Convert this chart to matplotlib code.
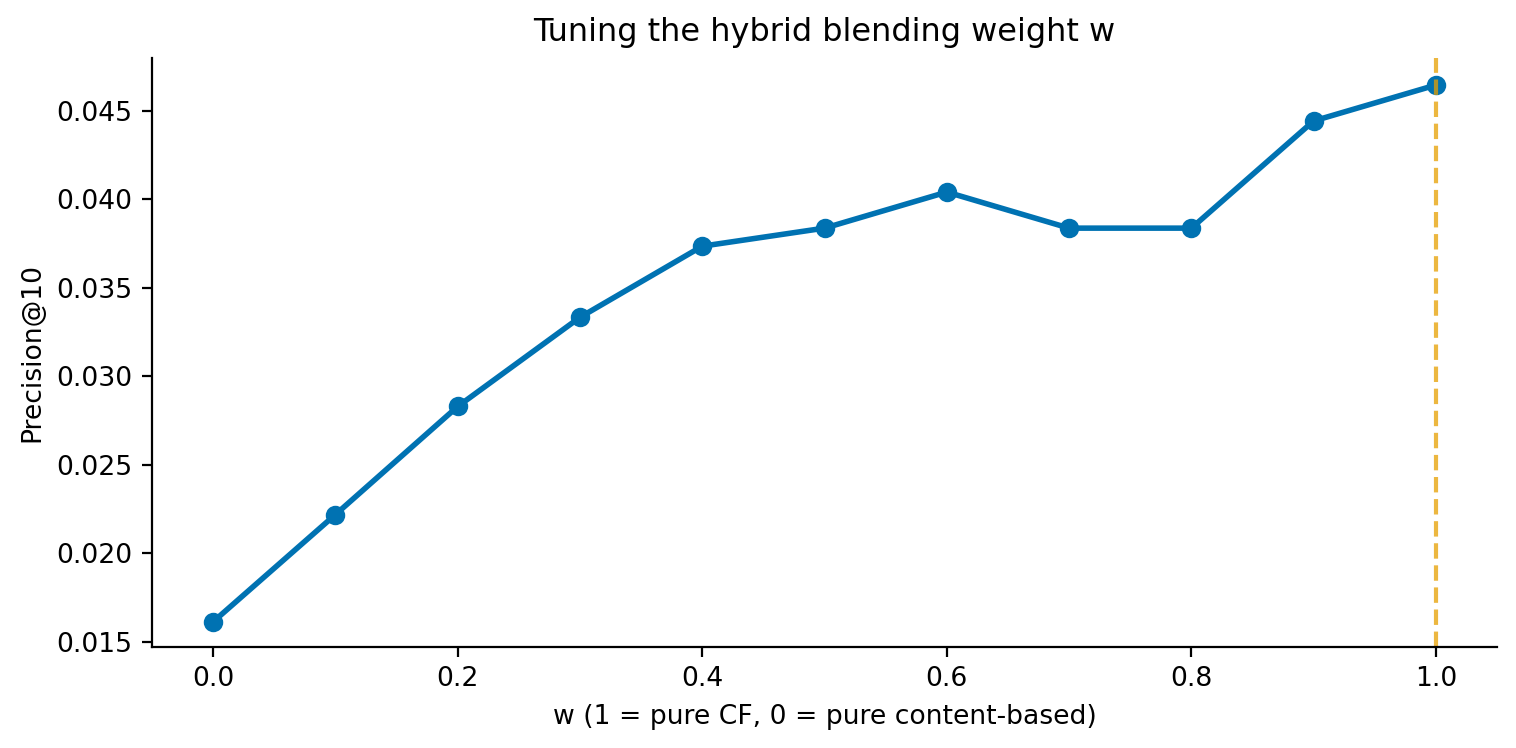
import matplotlib
matplotlib.use("Agg")
import matplotlib.pyplot as plt

# blending weight vs precision
weights = [0.0, 0.1, 0.2, 0.3, 0.4, 0.5, 0.6, 0.7, 0.8, 0.9, 1.0]
precision = [0.01613, 0.02219, 0.0283, 0.03334, 0.03736, 0.03838,
             0.04042, 0.03838, 0.03838, 0.04444, 0.04647]
best_w = 1.0

plt.rcParams["font.size"] = 9.6

fig = plt.figure(figsize=(7.58, 3.74), dpi=200)
ax = fig.add_axes([0.1003, 0.135, 0.8872, 0.7875])

ax.plot(weights, precision, marker="o", color="#0072B2", linewidth=2, markersize=6)
ax.axvline(best_w, color="#E69F00", linestyle="--", alpha=0.75, linewidth=1.5)

ax.set_title("Tuning the hybrid blending weight w", fontsize=11.5)
ax.set_xlabel("w (1 = pure CF, 0 = pure content-based)")
ax.set_ylabel("Precision@10")
ax.set_yticks([0.015, 0.020, 0.025, 0.030, 0.035, 0.040, 0.045])
ax.set_ylim(0.0147, 0.0480)
ax.spines["top"].set_visible(False)
ax.spines["right"].set_visible(False)

fig.savefig("out.png", dpi=200)
